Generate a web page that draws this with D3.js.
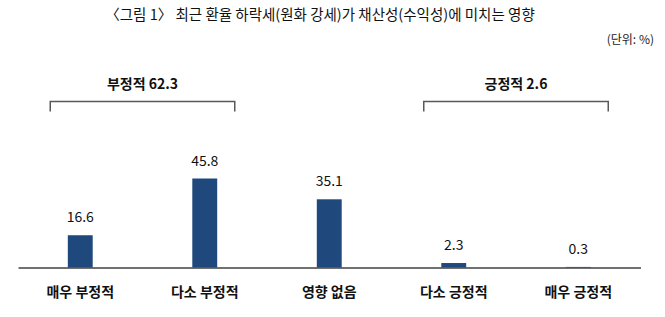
<!DOCTYPE html>
<html>
<head>
<meta charset="utf-8">
<script src="https://cdn.jsdelivr.net/npm/d3@7"></script>
<style>
html,body{margin:0;padding:0;background:#fff;}
svg{display:block;font-family:"Noto Sans CJK KR","Noto Sans",sans-serif;}
</style>
</head>
<body>
<svg id="chart" width="665" height="317"></svg>
<script>
const title = "〈그림 1〉 최근 환율 하락세(원화 강세)가 채산성(수익성)에 미치는 영향";
const unitLabel = "(단위: %)";
const categories = ["매우 부정적", "다소 부정적", "영향 없음", "다소 긍정적", "매우 긍정적"];
const values = [16.6, 45.8, 35.1, 2.3, 0.3];
const valueLabels = ["16.6", "45.8", "35.1", "2.3", "0.3"];
const groupLabels = ["부정적 62.3", "긍정적 2.6"];
const groupRanges = [[0, 1], [3, 4]];

const svg = d3.select("#chart");
const baseline = 267.5;
const x = d3.scaleBand().domain(categories).range([18, 640.5]).paddingInner(0.8).paddingOuter(0.4);
const y = d3.scaleLinear().domain([0, 45.8]).range([baseline, 178.5]);

svg.append("text").attr("x", 320).attr("y", 20).attr("text-anchor", "middle")
  .attr("font-size", 14.5).attr("fill", "#111").text(title);
svg.append("text").attr("x", 654).attr("y", 44).attr("text-anchor", "end")
  .attr("font-size", 12).attr("fill", "#222").text(unitLabel);

// bars
svg.selectAll("rect.bar").data(values).join("rect").attr("class", "bar")
  .attr("x", (d, i) => x(categories[i]))
  .attr("width", x.bandwidth())
  .attr("y", d => y(d))
  .attr("height", d => baseline - y(d))
  .attr("fill", "#1f497d");

// axis line
const axis = d3.axisBottom(x).tickSize(0).tickSizeOuter(0).tickFormat("");
const gAxis = svg.append("g").attr("transform", `translate(0,${baseline})`).call(axis);
gAxis.select(".domain").attr("stroke", "#404040").attr("stroke-width", 1.3);

// value labels
svg.selectAll("text.val").data(values).join("text").attr("class", "val")
  .attr("x", (d, i) => x(categories[i]) + x.bandwidth() / 2)
  .attr("y", d => y(d) - 13)
  .attr("text-anchor", "middle").attr("font-size", 14).attr("fill", "#111")
  .text((d, i) => valueLabels[i]);

// category labels
svg.selectAll("text.cat").data(categories).join("text").attr("class", "cat")
  .attr("x", d => x(d) + x.bandwidth() / 2)
  .attr("y", 297)
  .attr("text-anchor", "middle").attr("font-size", 14).attr("font-weight", "bold").attr("fill", "#111")
  .text(d => d);

// group brackets
groupRanges.forEach((r, gi) => {
  const x0 = x(categories[r[0]]) + x.bandwidth() / 2 - 30;
  const x1 = x(categories[r[1]]) + x.bandwidth() / 2 + 30;
  const top = 101.5, bot = 111.5;
  svg.append("path")
    .attr("d", `M${x0},${bot}V${top}H${x1}V${bot}`)
    .attr("fill", "none").attr("stroke", "#595959").attr("stroke-width", 1.5);
  svg.append("text").attr("x", (x0 + x1) / 2).attr("y", 89)
    .attr("text-anchor", "middle").attr("font-size", 14).attr("font-weight", "bold").attr("fill", "#111")
    .text(groupLabels[gi]);
});
</script>
</body>
</html>
